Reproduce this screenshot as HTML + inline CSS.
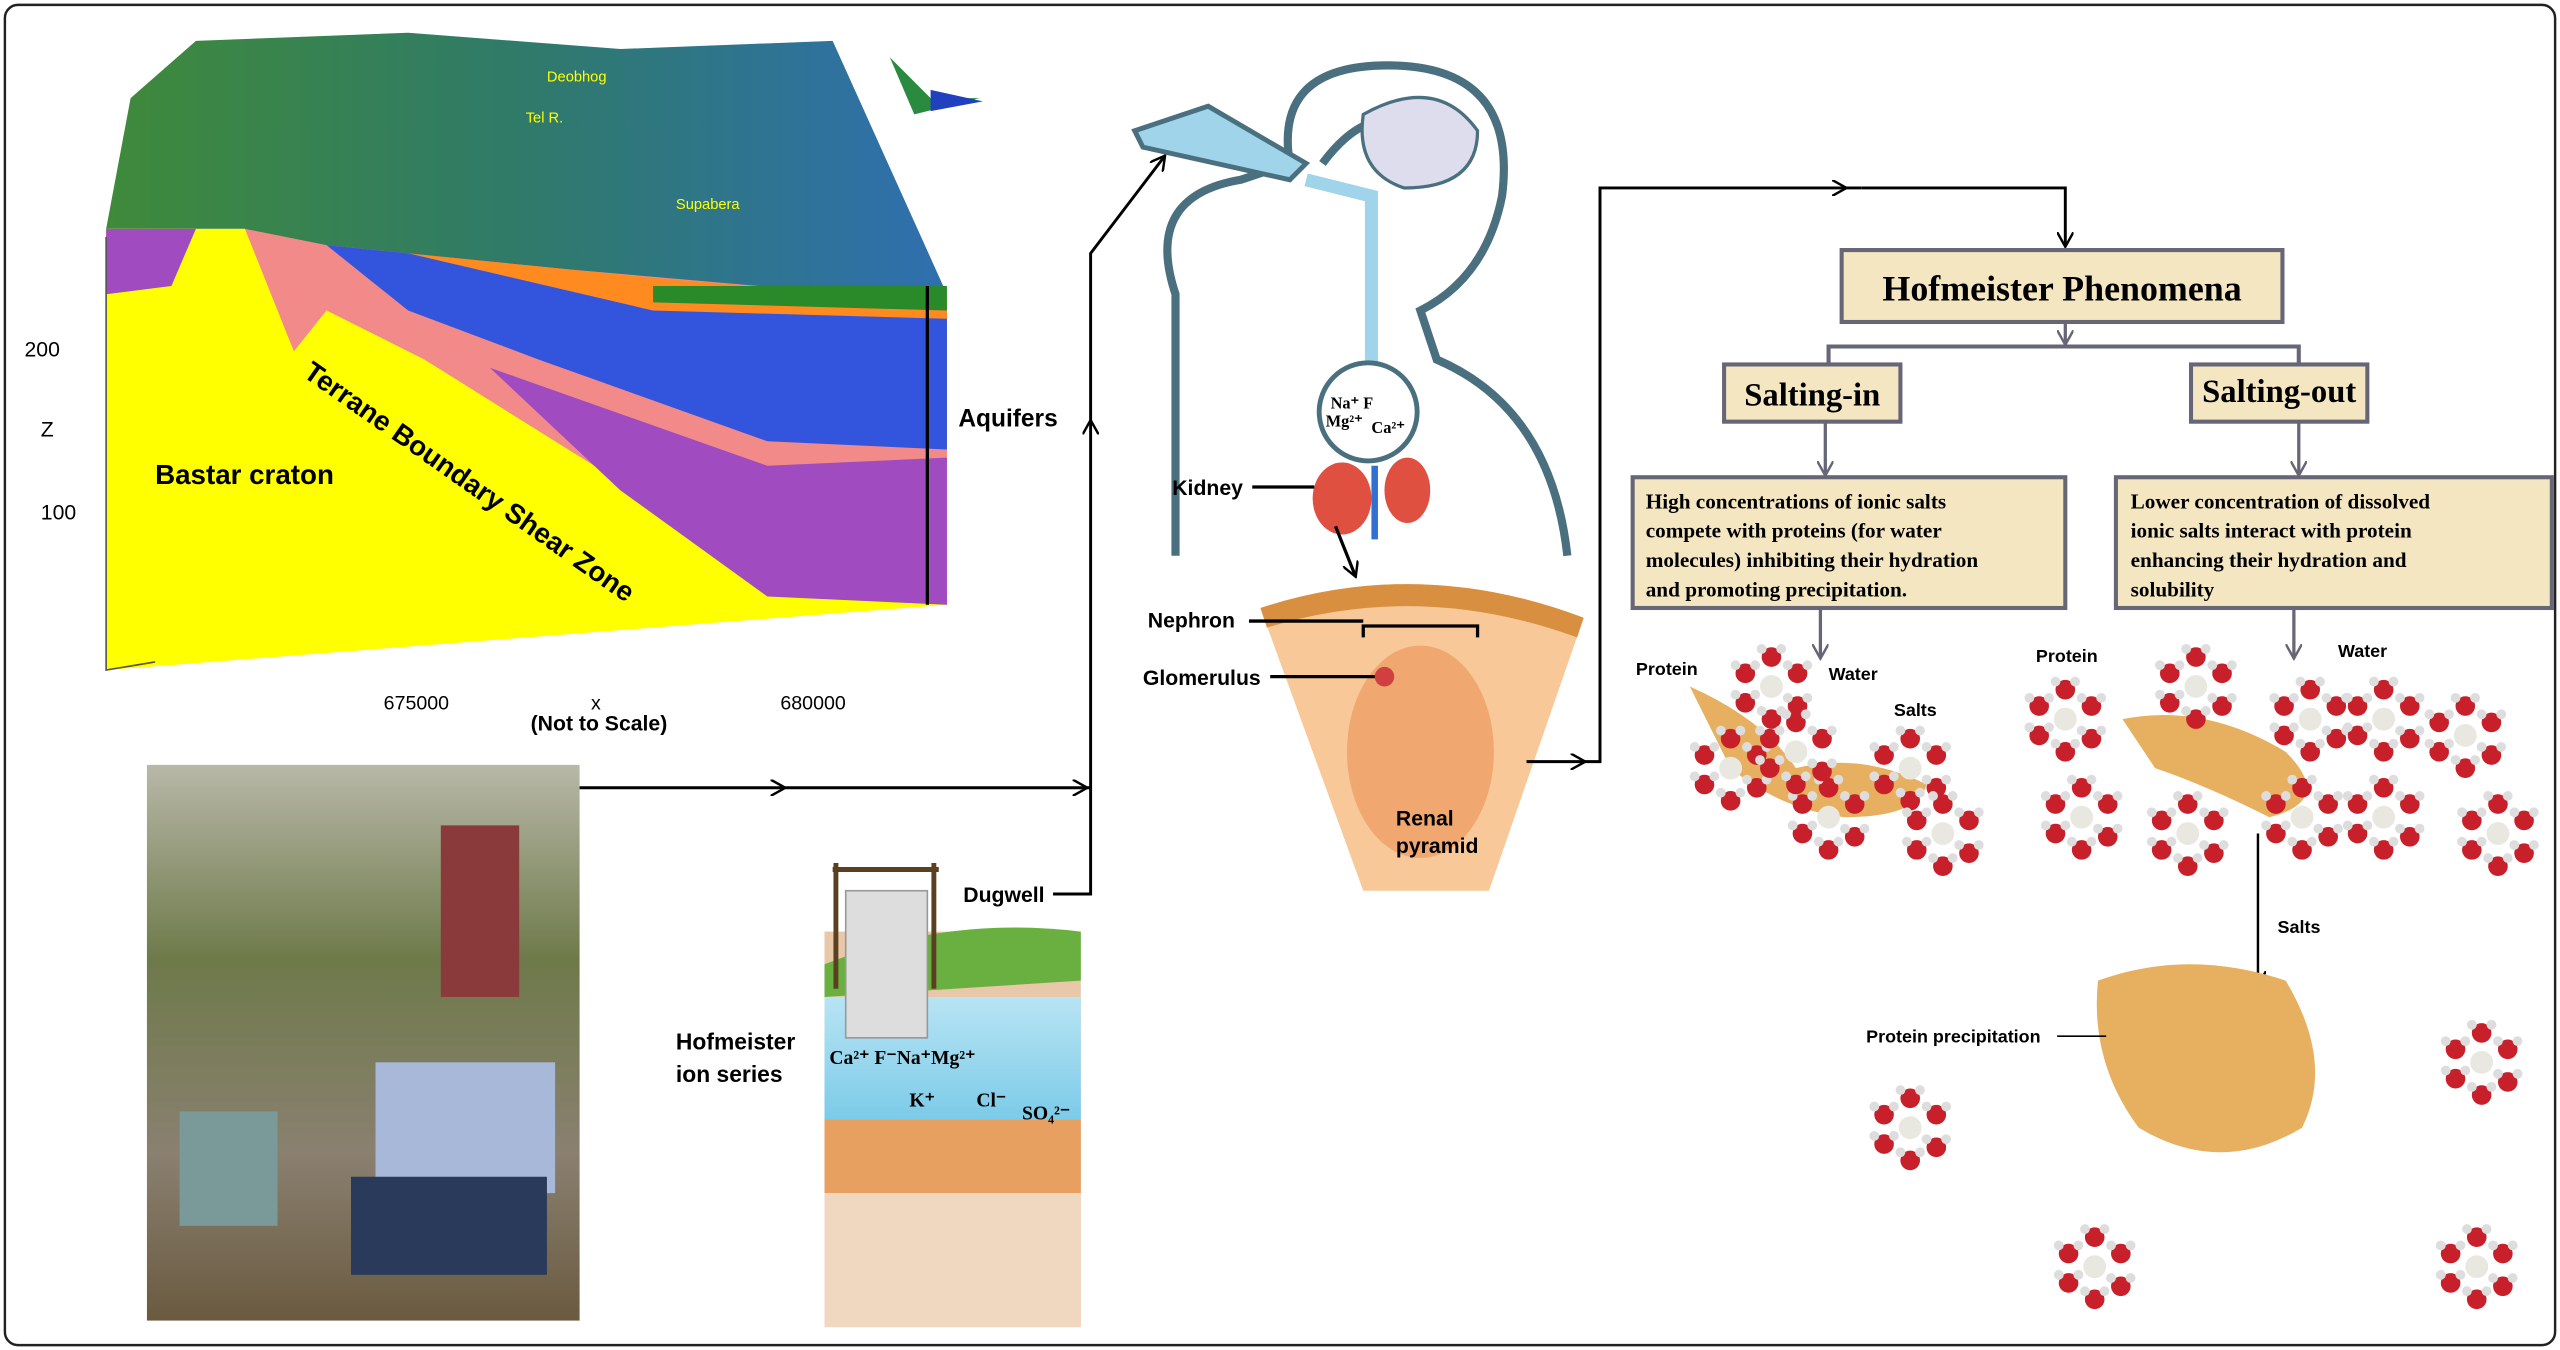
<!DOCTYPE html>
<html><head><meta charset="utf-8"><style>
html,body{margin:0;padding:0;background:#fff;}
svg{display:block;}
text{font-family:"Liberation Sans",sans-serif;}
.serif{font-family:"Liberation Serif",serif;font-weight:bold;}
</style></head><body>
<svg width="2560" height="1350" viewBox="0 0 1568 826" preserveAspectRatio="none" xmlns="http://www.w3.org/2000/svg">
<defs>
<marker id="ar" markerWidth="10" markerHeight="10" refX="8" refY="5" orient="auto" markerUnits="userSpaceOnUse"><path d="M0,0 L9,5 L0,10" fill="none" stroke="#000" stroke-width="1.5"/></marker>
<marker id="ag" markerWidth="10" markerHeight="10" refX="8" refY="5" orient="auto" markerUnits="userSpaceOnUse"><path d="M0,0 L9,5 L0,10" fill="none" stroke="#667" stroke-width="1.5"/></marker>
<linearGradient id="terr" x1="0" y1="0" x2="1" y2="0"><stop offset="0" stop-color="#3f8a3a"/><stop offset=".5" stop-color="#2f7a6a"/><stop offset="1" stop-color="#2f6fb0"/></linearGradient>
<linearGradient id="photo" x1="0" y1="0" x2="0" y2="1"><stop offset="0" stop-color="#b8b8a8"/><stop offset=".35" stop-color="#6e7a4a"/><stop offset=".7" stop-color="#8a8070"/><stop offset="1" stop-color="#6a5a40"/></linearGradient>
<linearGradient id="water" x1="0" y1="0" x2="0" y2="1"><stop offset="0" stop-color="#b8e4f4"/><stop offset="1" stop-color="#7ccbe8"/></linearGradient>
<g id="mol"><circle r="6" fill="#c8202a"/><circle cx="-6" cy="-5" r="3" fill="#ddd"/><circle cx="6" cy="-5" r="3" fill="#ddd"/></g>
<g id="clus"><use href="#mol" x="0" y="-18"/><use href="#mol" x="16" y="-8"/><use href="#mol" x="16" y="12"/><use href="#mol" x="0" y="20"/><use href="#mol" x="-16" y="10"/><use href="#mol" x="-16" y="-8"/><circle r="7" fill="#e8e8e0"/></g>
</defs>
<rect x="3" y="3" width="1562" height="820" rx="8" fill="#fff" stroke="#222" stroke-width="1.5"/>

<!-- geology block -->
<polygon points="65,140 80,60 120,25 250,20 380,30 510,25 580,180 570,370 470,365 360,290 200,190 150,140" fill="url(#terr)"/>
<polygon points="65,140 150,140 210,160 300,170 420,180 580,180 580,370 65,410" fill="#ffff00"/>
<polygon points="150,140 200,150 350,165 580,185 580,370 470,360 380,295 260,220 200,190 180,215" fill="#f28a8a"/>
<polygon points="200,150 300,160 580,190 580,275 470,270 330,220 250,190" fill="#3355dd"/>
<polygon points="250,155 400,170 580,185 580,195 400,190" fill="#ff8a20"/>
<polygon points="300,225 470,285 580,280 580,370 470,365 380,300" fill="#a04cc0"/>
<polygon points="65,140 120,140 105,175 65,180" fill="#a04cc0"/>
<polygon points="400,175 580,175 580,190 400,185" fill="#2a8a2a"/>
<polyline points="65,145 65,410 95,405" fill="none" stroke="#555"/>
<text x="15" y="218" font-size="13">200</text><text x="25" y="267" font-size="13">Z</text><text x="25" y="318" font-size="13">100</text>
<text x="235" y="434" font-size="12">675000</text><text x="478" y="434" font-size="12">680000</text>
<text x="362" y="434" font-size="12">x</text><text x="325" y="447" font-size="13" font-weight="bold">(Not to Scale)</text>
<text x="95" y="296" font-size="17" font-weight="bold">Bastar craton</text>
<text x="185" y="230" font-size="17" font-weight="bold" transform="rotate(35 185 230)">Terrane Boundary Shear Zone</text>
<text x="335" y="50" font-size="9" fill="#ff0">Deobhog</text><text x="322" y="75" font-size="9" fill="#ff0">Tel R.</text><text x="414" y="128" font-size="9" fill="#ff0">Supabera</text>
<line x1="568" y1="175" x2="568" y2="370" stroke="#000" stroke-width="2"/>
<text x="587" y="261" font-size="15" font-weight="bold">Aquifers</text>
<polygon points="545,35 570,60 600,60 560,70" fill="#2a8a40"/><polygon points="570,55 602,62 570,68" fill="#2040c0"/>

<!-- photo -->
<rect x="90" y="468" width="265" height="340" fill="url(#photo)"/>
<rect x="270" y="505" width="48" height="105" fill="#8a3a3a"/>
<rect x="230" y="650" width="110" height="80" fill="#a8b8d8"/>
<rect x="215" y="720" width="120" height="60" fill="#2a3a5a"/>
<rect x="110" y="680" width="60" height="70" fill="#7a9a9a"/>
<line x1="355" y1="482" x2="668" y2="482" stroke="#000" stroke-width="1.8"/>
<path d="M470,482 l10,0" stroke="#000" marker-end="url(#ar)"/>
<path d="M620,482 l45,0" stroke="#000" marker-end="url(#ar)"/>

<!-- dugwell -->
<rect x="505" y="570" width="157" height="242" fill="#e8c8a8"/>
<path d="M505,590 Q580,560 662,570 L662,600 L505,610Z" fill="#6ab040"/>
<rect x="505" y="610" width="157" height="75" fill="url(#water)"/>
<rect x="505" y="685" width="157" height="45" fill="#e8a060"/>
<rect x="505" y="730" width="157" height="82" fill="#f0d8c0"/>
<rect x="518" y="545" width="50" height="90" fill="#ddd" stroke="#999"/>
<line x1="512" y1="528" x2="512" y2="605" stroke="#5a4020" stroke-width="3"/><line x1="572" y1="528" x2="572" y2="605" stroke="#5a4020" stroke-width="3"/>
<line x1="510" y1="532" x2="575" y2="532" stroke="#5a4020" stroke-width="3"/>
<text x="590" y="552" font-size="13" font-weight="bold">Dugwell</text>
<text x="414" y="642" font-size="14" font-weight="bold">Hofmeister</text><text x="414" y="662" font-size="14" font-weight="bold">ion series</text>
<text x="508" y="651" class="serif" font-size="12" font-weight="normal">Ca²⁺ F⁻Na⁺Mg²⁺</text>
<text x="557" y="677" class="serif" font-size="12" font-weight="normal">K⁺</text><text x="598" y="677" class="serif" font-size="12" font-weight="normal">Cl⁻</text><text x="626" y="685" class="serif" font-size="12" font-weight="normal">SO₄²⁻</text>
<polyline points="645,547 668,547 668,155 713,96" fill="none" stroke="#000" stroke-width="1.8" marker-end="url(#ar)"/>
<path d="M668,270 l0,-12" stroke="#000" marker-end="url(#ar)"/>

<!-- human -->
<g fill="none" stroke="#4a7080" stroke-width="5">
<path d="M720,340 L720,180 Q700,120 760,110 L790,100 Q780,40 850,40 Q930,40 920,120 Q910,170 870,190 L880,220 Q950,250 960,340"/>
<path d="M810,100 Q840,60 870,80"/>
</g>
<path d="M835,70 Q880,45 905,80 Q905,115 860,115 Q830,105 835,70Z" fill="#dde" stroke="#4a7080" stroke-width="2"/>
<path d="M695,80 L740,65 L800,100 L790,110 L700,90Z" fill="#9fd4ea" stroke="#4a7080" stroke-width="3"/>
<path d="M800,110 L840,120 L840,230" fill="none" stroke="#9fd4ea" stroke-width="8"/>
<circle cx="838" cy="252" r="30" fill="#fff" stroke="#4a7080" stroke-width="3"/>
<text x="815" y="250" font-size="10" class="serif" font-weight="normal">Na⁺ F</text><text x="812" y="261" font-size="10" class="serif" font-weight="normal">Mg²⁺</text><text x="840" y="265" font-size="10" class="serif" font-weight="normal">Ca²⁺</text>
<ellipse cx="822" cy="305" rx="18" ry="22" fill="#e05040"/><ellipse cx="862" cy="300" rx="14" ry="20" fill="#e05040"/>
<line x1="842" y1="285" x2="842" y2="330" stroke="#3070d0" stroke-width="4"/>
<text x="718" y="303" font-size="13" font-weight="bold">Kidney</text>
<line x1="767" y1="298" x2="805" y2="298" stroke="#000" stroke-width="2"/>
<line x1="818" y1="322" x2="830" y2="352" stroke="#000" stroke-width="2" marker-end="url(#ar)"/>

<!-- renal section -->
<path d="M772,372 Q870,340 970,378 L912,545 L835,545Z" fill="#f8c898"/>
<path d="M772,372 Q870,340 970,378 L966,390 Q870,355 776,384Z" fill="#d89040"/>
<ellipse cx="870" cy="460" rx="45" ry="65" fill="#f0a870"/>
<text x="703" y="384" font-size="13" font-weight="bold">Nephron</text>
<line x1="765" y1="380" x2="835" y2="380" stroke="#000" stroke-width="2"/>
<polyline points="835,390 835,383 905,383 905,390" fill="none" stroke="#000" stroke-width="2"/>
<text x="700" y="419" font-size="13" font-weight="bold">Glomerulus</text>
<line x1="778" y1="414" x2="845" y2="414" stroke="#000" stroke-width="2"/>
<circle cx="848" cy="414" r="6" fill="#d04040"/>
<text x="855" y="505" font-size="13" font-weight="bold">Renal</text><text x="855" y="522" font-size="13" font-weight="bold">pyramid</text>
<polyline points="935,466 980,466 980,115 1140,115" fill="none" stroke="#000" stroke-width="1.8"/>
<path d="M960,466 l10,0" stroke="#000" marker-end="url(#ar)"/>
<path d="M1115,115 l15,0" stroke="#000" marker-end="url(#ar)"/>
<polyline points="1140,115 1265,115 1265,150" fill="none" stroke="#000" stroke-width="1.8" marker-end="url(#ar)"/>

<!-- Hofmeister -->
<rect x="1128" y="153" width="270" height="44" fill="#f3e6c1" stroke="#667" stroke-width="2.5"/>
<text x="1263" y="184" class="serif" font-size="22" text-anchor="middle">Hofmeister Phenomena</text>
<polyline points="1120,222 1120,212 1408,212 1408,222" fill="none" stroke="#667" stroke-width="2.5"/>
<line x1="1265" y1="197" x2="1265" y2="210" stroke="#667" stroke-width="2" marker-end="url(#ag)"/>
<rect x="1056" y="223" width="108" height="35" fill="#f3e6c1" stroke="#667" stroke-width="2.5"/>
<text x="1110" y="248" class="serif" font-size="20" text-anchor="middle">Salting-in</text>
<rect x="1342" y="223" width="108" height="35" fill="#f3e6c1" stroke="#667" stroke-width="2.5"/>
<text x="1396" y="246" class="serif" font-size="20" text-anchor="middle">Salting-out</text>
<line x1="1118" y1="258" x2="1118" y2="290" stroke="#667" stroke-width="2" marker-end="url(#ag)"/>
<line x1="1408" y1="258" x2="1408" y2="290" stroke="#667" stroke-width="2" marker-end="url(#ag)"/>
<rect x="1000" y="292" width="265" height="80" fill="#f3e6c1" stroke="#667" stroke-width="2.5"/>
<text class="serif" font-size="13"><tspan x="1008" y="311">High concentrations of ionic salts</tspan><tspan x="1008" y="329">compete with proteins (for water</tspan><tspan x="1008" y="347">molecules) inhibiting their hydration</tspan><tspan x="1008" y="365">and promoting precipitation.</tspan></text>
<rect x="1296" y="292" width="267" height="80" fill="#f3e6c1" stroke="#667" stroke-width="2.5"/>
<text class="serif" font-size="13"><tspan x="1305" y="311">Lower concentration of dissolved</tspan><tspan x="1305" y="329">ionic salts interact with protein</tspan><tspan x="1305" y="347">enhancing their hydration and</tspan><tspan x="1305" y="365">solubility</tspan></text>
<line x1="1115" y1="372" x2="1115" y2="402" stroke="#667" stroke-width="2" marker-end="url(#ag)"/>
<line x1="1405" y1="372" x2="1405" y2="402" stroke="#667" stroke-width="2" marker-end="url(#ag)"/>

<!-- salting-in cluster -->
<path d="M1035,420 Q1080,440 1100,470 Q1140,460 1180,480 Q1175,500 1130,500 Q1090,495 1060,470Z" fill="#e6b060"/>
<use href="#clus" x="1085" y="420"/><use href="#clus" x="1060" y="470"/><use href="#clus" x="1120" y="500"/><use href="#clus" x="1170" y="470"/><use href="#clus" x="1100" y="460"/><use href="#clus" x="1190" y="510"/>
<text x="1002" y="413" font-size="11" font-weight="bold">Protein</text><text x="1120" y="416" font-size="11" font-weight="bold">Water</text><text x="1160" y="438" font-size="11" font-weight="bold">Salts</text>
<!-- salting-out cluster -->
<path d="M1300,440 Q1350,430 1400,460 Q1430,490 1390,500 Q1350,480 1320,470Z" fill="#e6b060"/>
<use href="#clus" x="1265" y="440"/><use href="#clus" x="1345" y="420"/><use href="#clus" x="1415" y="440"/><use href="#clus" x="1275" y="500"/><use href="#clus" x="1340" y="510"/><use href="#clus" x="1460" y="500"/><use href="#clus" x="1510" y="450"/><use href="#clus" x="1530" y="510"/><use href="#clus" x="1460" y="440"/><use href="#clus" x="1410" y="500"/>
<text x="1247" y="405" font-size="11" font-weight="bold">Protein</text><text x="1432" y="402" font-size="11" font-weight="bold">Water</text><text x="1395" y="571" font-size="11" font-weight="bold">Salts</text>
<line x1="1383" y1="510" x2="1383" y2="602" stroke="#000" stroke-width="1.5" marker-end="url(#ar)"/>
<!-- precipitate -->
<path d="M1285,600 Q1340,580 1400,600 Q1430,650 1410,690 Q1360,720 1310,690 Q1280,650 1285,600Z" fill="#e6b060"/>
<text x="1143" y="638" font-size="11" font-weight="bold">Protein precipitation</text>
<line x1="1260" y1="634" x2="1290" y2="634" stroke="#000"/>
<use href="#clus" x="1170" y="690"/><use href="#clus" x="1283" y="775"/><use href="#clus" x="1520" y="650"/><use href="#clus" x="1517" y="775"/>
</svg>
</body></html>
